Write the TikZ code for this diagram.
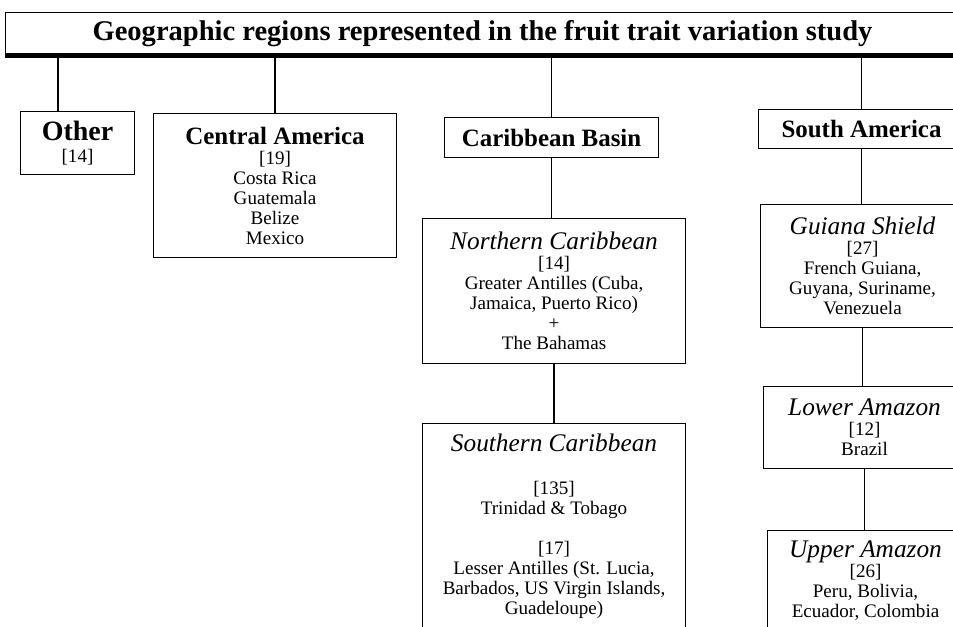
\documentclass[tikz,border=0pt]{standalone}
\usepackage{fontspec}
\setmainfont{Liberation Serif}
\usetikzlibrary{positioning, calc}

\newcommand\bodyfont{\fontsize{14.3}{15}\selectfont}
\newcommand\headfont{\fontsize{18.7}{15}\selectfont\bfseries}
\newcommand\subfont{\fontsize{19}{15}\selectfont\itshape}

\tikzset{
  regbox/.style 2 args={draw, line width=0.8pt, align=center, inner xsep=2pt, inner ysep=6pt,
    anchor=north west, minimum width=#1*0.75pt, minimum height=#2*0.75pt, font=\bodyfont},
  link/.style={line width=0.9pt}
}

\begin{document}
\begin{tikzpicture}[x=0.75pt, y=-0.75pt]
  \useasboundingbox (0,0) rectangle (953,627);
  \clip (0,0) rectangle (953,627);

  % Title bar
  \node[regbox={954}{42}, font=\fontsize{21.4}{24}\selectfont\bfseries] (title) at (5,12)
    {Geographic regions represented in the fruit trait variation study};
  \draw[line width=3.2pt] (title.south west) -- (title.south east);

  % First row
  \node[regbox={114}{63}] (other) at (20,111)
    {{\fontsize{21}{15}\selectfont\bfseries Other}\\[1pt] {[14]}};
  \node[regbox={243}{144}] (central) at (153,113)
    {{\headfont Central America}\\ {[19]}\\ Costa Rica\\ Guatemala\\ Belize\\ Mexico};
  \node[regbox={214}{40}] (cbasin) at (444,117) {{\headfont Caribbean Basin}};
  \node[regbox={206}{39}] (samerica) at (758,109) {{\headfont South America}};

  % Caribbean column
  \node[regbox={263}{145}] (ncarib) at (422,218)
    {{\subfont Northern Caribbean}\\ {[14]}\\ Greater Antilles (Cuba,\\ Jamaica, Puerto Rico)\\ +\\ The Bahamas};
  \node[regbox={263}{0}, inner ysep=8pt] (scarib) at (422,423)
    {{\subfont Southern Caribbean}\\[17pt] {[135]}\\ Trinidad \& Tobago\\[15pt] {[17]}\\
     Lesser Antilles (St. Lucia,\\ Barbados, US Virgin Islands,\\ Guadeloupe)\\[30pt] \mbox{}};

  % South America column
  \node[regbox={204}{123}] (guiana) at (760,204)
    {{\subfont Guiana Shield}\\ {[27]}\\ French Guiana,\\ Guyana, Suriname,\\ Venezuela};
  \node[regbox={202}{82}] (lower) at (763,386)
    {{\subfont Lower Amazon}\\ {[12]}\\ Brazil};
  \node[regbox={196}{0}, inner ysep=8pt] (upper) at (767,530)
    {{\subfont Upper Amazon}\\ {[26]}\\ Peru, Bolivia,\\ Ecuador, Colombia\\[30pt] \mbox{}};

  % Connectors
  \coordinate (otherdrop) at (58,0);
  \draw[link] (title.south -| otherdrop) -- (other.north -| otherdrop);
  \draw[link] (title.south -| central.north) -- (central.north);
  \draw[link] (title.south -| cbasin.north) -- (cbasin.north);
  \draw[link] (title.south -| samerica.north) -- (samerica.north);
  \draw[link] (cbasin.south) -- (cbasin.south |- ncarib.north);
  \draw[link] (ncarib.south) -- (ncarib.south |- scarib.north);
  \draw[link] (samerica.south) -- (samerica.south |- guiana.north);
  \draw[link] (guiana.south) -- (guiana.south |- lower.north);
  \draw[link] (lower.south) -- (lower.south |- upper.north);
\end{tikzpicture}
\end{document}
